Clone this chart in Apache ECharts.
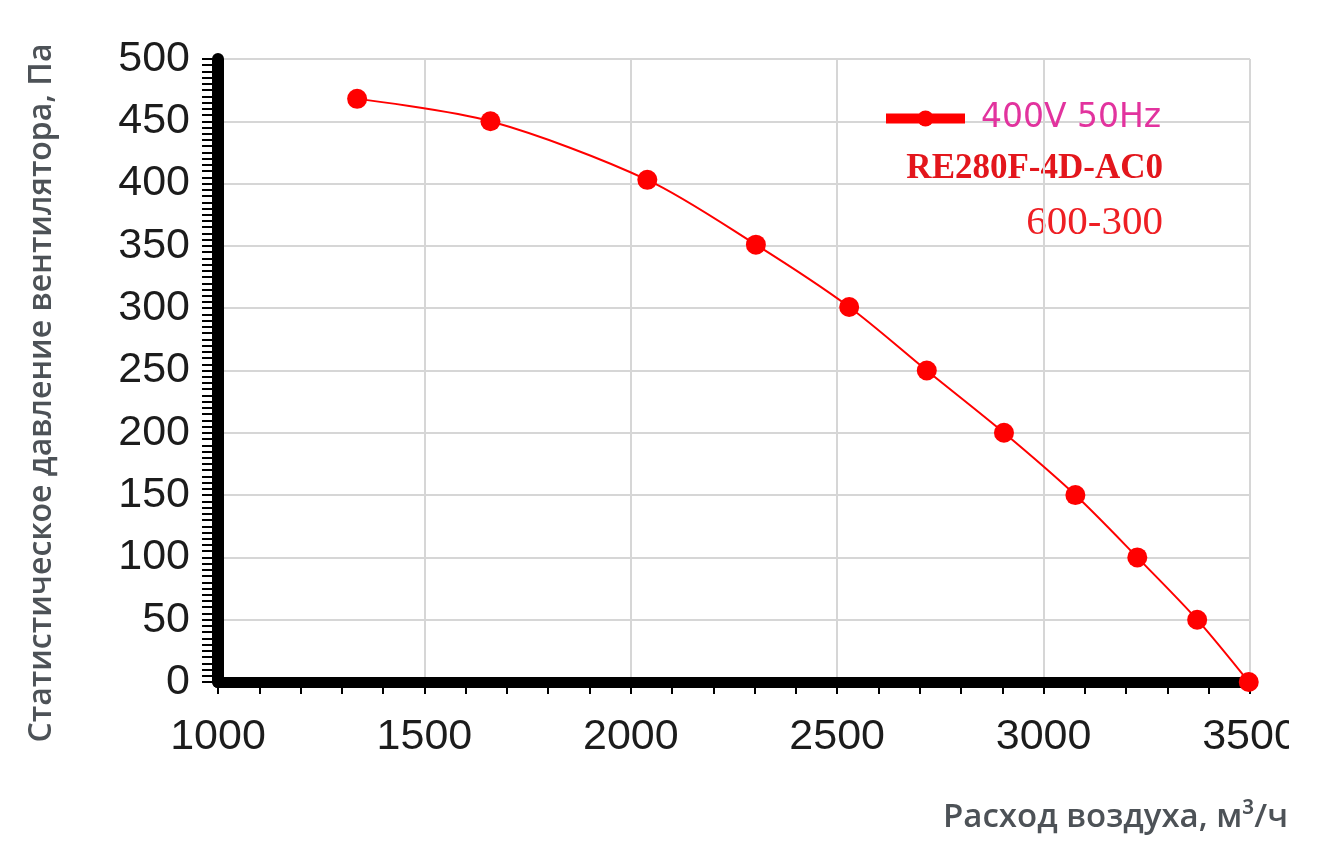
<!DOCTYPE html>
<html>
<head>
<meta charset="utf-8">
<script src="https://cdn.jsdelivr.net/npm/echarts@6/dist/echarts.min.js"></script>
<style>
  html, body { margin: 0; padding: 0; background: #fff; }
  #chart { width: 1289px; height: 843px; }
</style>
</head>
<body>
<div id="chart"></div>
<script>
// расход воздуха, м3/ч
const airFlow = [1337, 1660, 2040, 2303, 2529, 2717, 2904, 3077, 3227, 3372, 3497];
// статическое давление, Па
const pressure = [468, 450, 403, 351, 301, 250, 200, 150, 100, 50, 0];

const seriesName = '400V 50Hz';
const modelName = 'RE280F-4D-AC0';
const sizeName = '600-300';
const xTitle = 'Расход воздуха, м³/ч';
const yTitle = 'Статистическое давление вентилятора, Па';

const chart = echarts.init(document.getElementById('chart'));

const points = airFlow.map((x, i) => [x, pressure[i]]);

const option = {
    backgroundColor: '#fff',
    animation: false,
    grid: { left: 218, top: 59, right: 39, bottom: 161, outerBoundsMode: 'none', containLabel: false },
    legend: {
        data: [seriesName],
        left: 876,
        top: 97,
        itemWidth: 79,
        itemHeight: 20,
        lineStyle: { width: 10 },
        textStyle: {
            color: '#e2339e',
            fontFamily: 'DejaVu Sans',
            fontSize: 33,
            padding: [12, 0, 0, 11]
        }
    },
    xAxis: {
        type: 'value',
        min: 1000,
        max: 3500,
        interval: 500,
        axisLine: { lineStyle: { color: '#000', width: 11 } },
        axisTick: { show: true, length: 12, lineStyle: { color: '#000', width: 2 } },
        minorTick: { show: true, splitNumber: 5, length: 12, lineStyle: { color: '#000', width: 2 } },
        splitLine: { show: true, lineStyle: { color: '#d6d6d6', width: 2 } },
        axisLabel: {
            color: '#1c1c1c',
            fontFamily: 'Liberation Sans',
            fontSize: 43,
            margin: 34,
            formatter: v => String(v)
        }
    },
    yAxis: {
        type: 'value',
        min: 0,
        max: 500,
        interval: 50,
        axisLine: { show: true, lineStyle: { color: '#000', width: 12 } },
        axisTick: { show: true, length: 16, lineStyle: { color: '#000', width: 2 } },
        minorTick: { show: true, splitNumber: 10, length: 16, lineStyle: { color: '#000', width: 2 } },
        splitLine: { show: true, lineStyle: { color: '#d6d6d6', width: 2 } },
        axisLabel: {
            color: '#1c1c1c',
            fontFamily: 'Liberation Sans',
            fontSize: 43,
            margin: 28,
            formatter: v => String(v)
        }
    },
    graphic: [
        {
            type: 'text',
            x: 1163,
            y: 169,
            style: {
                text: modelName,
                fill: '#e3161c',
                font: 'bold 35px "Liberation Serif"',
                textAlign: 'right',
                textVerticalAlign: 'middle'
            }
        },
        {
            type: 'text',
            x: 1163,
            y: 223,
            style: {
                text: sizeName,
                fill: '#ee1f24',
                font: '41px "Liberation Serif"',
                textAlign: 'right',
                textVerticalAlign: 'middle'
            }
        },
        {
            type: 'text',
            x: 1288,
            y: 818,
            style: {
                text: xTitle,
                fill: '#4d5257',
                font: '600 33px "Open Sans"',
                textAlign: 'right',
                textVerticalAlign: 'middle'
            }
        },
        {
            type: 'text',
            x: 42,
            y: 393,
            rotation: Math.PI / 2,
            style: {
                text: yTitle,
                fill: '#4d5257',
                font: '600 32px "Open Sans"',
                textAlign: 'center',
                textVerticalAlign: 'middle'
            }
        }
    ],
    series: [
        {
            name: seriesName,
            type: 'line',
            smooth: 0.3,
            data: points,
            symbol: 'circle',
            symbolSize: 20,
            lineStyle: { color: '#ff0000', width: 2 },
            itemStyle: { color: '#ff0000' }
        }
    ]
};

chart.setOption(option);
</script>
</body>
</html>
